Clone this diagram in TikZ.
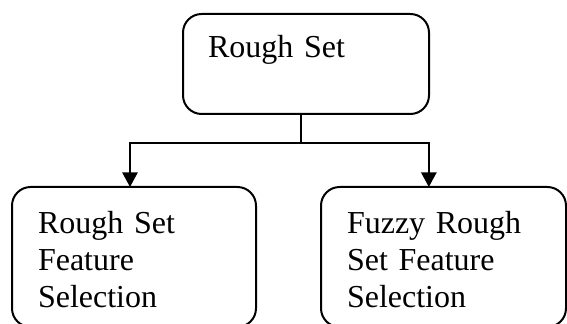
\documentclass[tikz,border=0pt]{standalone}
\usepackage{fontspec}
\setmainfont{Liberation Serif}
\usetikzlibrary{arrows.meta}

\begin{document}
\begin{tikzpicture}[x=0.75pt,y=0.75pt,
    box/.style={draw, line width=1.5pt, rounded corners=14pt, anchor=north west, outer sep=0pt,
      inner ysep=0pt, align=left, font=\fontsize{24}{27.4}\selectfont},
    arr/.style={line width=1.5pt, -{Triangle[width=11.5pt,length=11pt]}}]
    \useasboundingbox (0,0) rectangle (567,324);
    \node[box, inner xsep=18.75pt, text width=147pt, text height=33pt, text depth=42pt] (rs) at (183,310) {Rough Set};
    \node[box, inner xsep=19.5pt, text width=144pt, text height=35.25pt, text depth=69.75pt] (rsfs) at (12,137) {Rough Set\\Feature\\Selection};
    \node[box, inner xsep=19.5pt, text width=144.75pt, text height=35.25pt, text depth=69.75pt] (frsfs) at (321,137) {Fuzzy Rough\\Set Feature\\Selection};
    \coordinate (fork) at (300.5,181);
    \draw[line width=1.5pt] (rs.south -| fork) -- (fork);
    \draw[arr] (fork) -| ([xshift=-3pt]rsfs.north);
    \draw[arr] (fork) -| ([xshift=-11pt]frsfs.north);
  \end{tikzpicture}
\end{document}
